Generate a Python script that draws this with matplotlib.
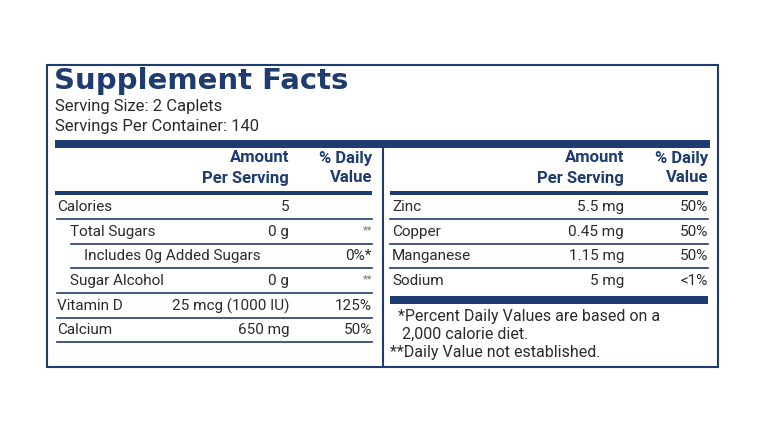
import matplotlib
matplotlib.use("Agg")
import matplotlib.pyplot as plt

navy = "#1f3c70"
ink = "#2b2b2b"
narrow = ["Roboto", "DejaVu Sans"]
bold = ["Roboto", "DejaVu Sans"]

title = "Supplement Facts"
serving = ["Serving Size: 2 Caplets", "Servings Per Container: 140"]
left_names = ["Calories", "Total Sugars", "Includes 0g Added Sugars", "Sugar Alcohol", "Vitamin D", "Calcium"]
left_indent = [0, 1, 2, 1, 0, 0]
left_amounts = ["5", "0 g", "", "0 g", "25 mcg (1000 IU)", "650 mg"]
left_dv = ["", "**", "0%*", "**", "125%", "50%"]
right_names = ["Zinc", "Copper", "Manganese", "Sodium"]
right_amounts = ["5.5 mg", "0.45 mg", "1.15 mg", "5 mg"]
right_dv = ["50%", "50%", "50%", "<1%"]
footnotes = ["*Percent Daily Values are based on a", " 2,000 calorie diet.", "**Daily Value not established."]

fig = plt.figure(figsize=(7.71, 4.32), dpi=100)
ax = fig.add_axes([0, 0, 1, 1])
ax.set_xlim(0, 771); ax.set_ylim(432, 0); ax.axis("off")

ax.add_patch(plt.Rectangle((47, 65), 671, 302, fill=False, ec=navy, lw=1.5))
ax.text(54, 81, title, fontsize=21, fontweight="heavy", color=navy, va="center", family=["DejaVu Sans"])
for i, s in enumerate(serving):
    ax.text(55, 106 + 20 * i, s, fontsize=12, color=ink, va="center", family=bold)
ax.add_patch(plt.Rectangle((55, 140), 655, 8, color=navy, lw=0))
ax.plot([383, 383], [148, 367], color=navy, lw=1.5)

def header(x_amt, x_dv, x0, x1):
    for t, y in [("Amount", 158), ("Per Serving", 178)]:
        ax.text(x_amt, y, t, ha="right", va="center", fontsize=12, fontweight="bold", color=navy, family=bold)
    for t, y in [("% Daily", 158), ("Value", 178)]:
        ax.text(x_dv, y, t, ha="right", va="center", fontsize=12, fontweight="bold", color=navy, family=bold)
    ax.add_patch(plt.Rectangle((x0, 191), x1 - x0, 4, color=navy, lw=0))

header(289, 372, 55, 372)
header(624, 708, 390, 708)

row_y = [207, 232, 256, 281, 306, 330]
for i, (n, a, d) in enumerate(zip(left_names, left_amounts, left_dv)):
    y = row_y[i]
    ax.text(57 + 13.5 * left_indent[i], y, n, va="center", fontsize=11, color=ink, family=narrow)
    ax.text(289, y, a, ha="right", va="center", fontsize=11, color=ink, family=narrow)
    ax.text(372, y + (-2 if d == "**" else 0), d, ha="right", va="center",
            fontsize=8 if d == "**" else 11, color=ink if d != "**" else "#777", family=narrow)
    nxt = left_indent[i + 1] if i + 1 < len(left_names) else 0
    x0 = 57 + 13.5 * min(left_indent[i], nxt) if i < len(left_names) - 1 else 57
    ax.plot([x0, 372], [y + 12, y + 12], color=navy, lw=1.2)

for i, (n, a, d) in enumerate(zip(right_names, right_amounts, right_dv)):
    y = row_y[i]
    ax.text(392, y, n, va="center", fontsize=11, color=ink, family=narrow)
    ax.text(624, y, a, ha="right", va="center", fontsize=11, color=ink, family=narrow)
    ax.text(708, y, d, ha="right", va="center", fontsize=11, color=ink, family=narrow)
    if i < len(right_names) - 1:
        ax.plot([390, 708], [y + 12, y + 12], color=navy, lw=1.2)
ax.add_patch(plt.Rectangle((390, 296), 318, 8, color=navy, lw=0))
for t, x, y in zip(footnotes, [398, 398, 390], [317, 334, 352]):
    ax.text(x, y, t, va="center", fontsize=11.5, color=ink, family=narrow)

fig.savefig("out.png", dpi=100)
